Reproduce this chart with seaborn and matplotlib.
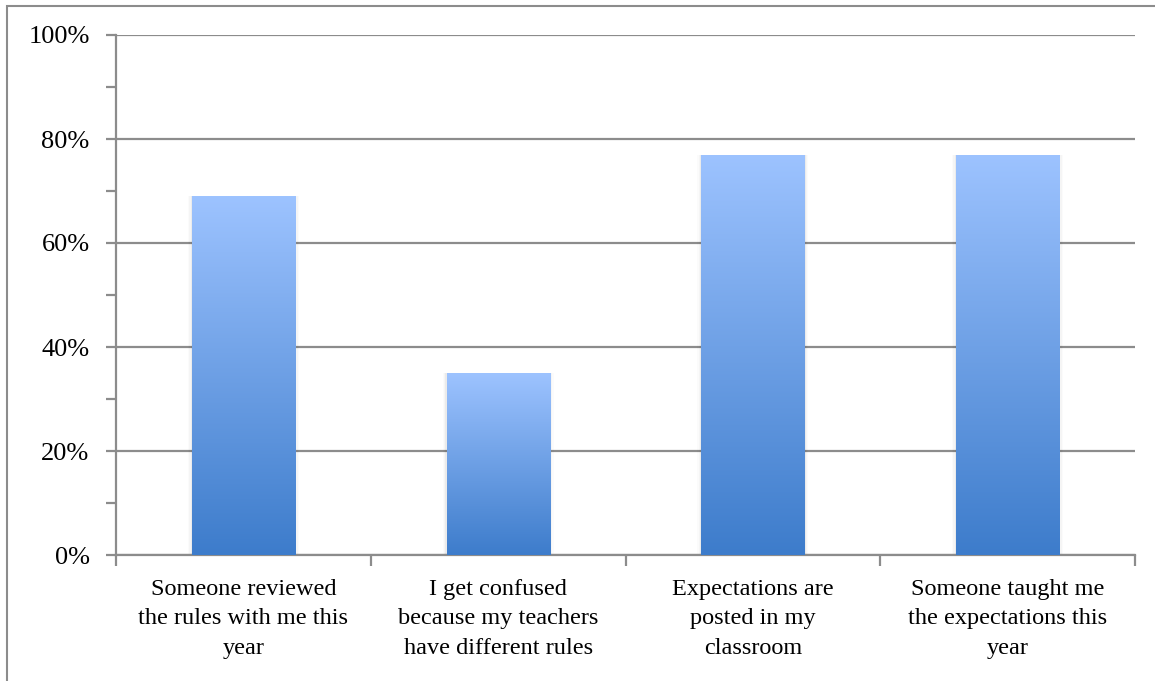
import numpy as np
import pandas as pd
import matplotlib
matplotlib.use("Agg")
import matplotlib.pyplot as plt
import seaborn as sns
from matplotlib.patches import Rectangle
from matplotlib.colors import LinearSegmentedColormap
from matplotlib.ticker import MultipleLocator, FuncFormatter

categories = [
    "Someone reviewed\nthe rules with me this\nyear",
    "I get confused\nbecause my teachers\nhave different rules",
    "Expectations are\nposted in my\nclassroom",
    "Someone taught me\nthe expectations this\nyear",
]
values = [0.69, 0.35, 0.77, 0.77]

sns.set_theme(style="white")
plt.rcParams["font.family"] = ["Liberation Serif", "DejaVu Serif"]
plt.rcParams["text.color"] = "black"
plt.rcParams["xtick.labelcolor"] = "black"
plt.rcParams["ytick.labelcolor"] = "black"

fig = plt.figure(figsize=(11.55, 6.81), dpi=100)
ax = fig.add_axes([116/1155, 1-555/681, (1135-116)/1155, (555-35)/681])

df = pd.DataFrame({"cat": categories, "val": values})
sns.barplot(data=df, x="cat", y="val", ax=ax, width=0.405, color="#6a9de6", zorder=3)

cmap = LinearSegmentedColormap.from_list("g", ["#3d7ccb", "#9dc3ff"])
grad = np.linspace(0, 1, 256).reshape(-1, 1)
for p in list(ax.patches):
    x, y = p.get_x(), p.get_y()
    w, h = p.get_width(), p.get_height()
    # soft shadow
    for i, a in enumerate([0.04, 0.025, 0.015]):
        d = 0.005 * (i + 1)
        ax.add_patch(Rectangle((x - d, y), w + 2 * d, h,
                               facecolor="black", alpha=a, edgecolor="none", zorder=2))
    im = ax.imshow(grad, extent=[x, x + w, y, y + h], origin="lower", aspect="auto",
                   cmap=cmap, zorder=3.5)
    im.set_clip_path(p)
    p.set_facecolor("none")
    p.set_edgecolor("none")

ax.set_xlim(-0.5, 3.5)
ax.set_ylim(0, 1)
ax.set_xlabel("")
ax.set_ylabel("")

ax.yaxis.set_major_locator(MultipleLocator(0.2))
ax.yaxis.set_minor_locator(MultipleLocator(0.1))
ax.yaxis.set_major_formatter(FuncFormatter(lambda v, _: f"{v*100:.0f}%"))
ax.grid(axis="y", which="major", color="#8c8c8c", linewidth=1.6, zorder=1)
ax.set_axisbelow(True)

ax.set_xticks(range(4))
ax.set_xticklabels(categories, fontsize=17.5, linespacing=1.55)
ax.set_xticks(np.arange(-0.5, 4, 1), minor=True)
ax.tick_params(axis="x", which="major", length=0, pad=17)
ax.tick_params(axis="x", which="minor", length=8, width=1.6, color="#8c8c8c", direction="out", bottom=True)
ax.tick_params(axis="y", which="both", length=7, width=1.6, color="#8c8c8c", direction="out", left=True, labelsize=19, pad=12)

for s in ["top", "right"]:
    ax.spines[s].set_visible(False)
for s in ["left", "bottom"]:
    ax.spines[s].set_color("#8c8c8c")
    ax.spines[s].set_linewidth(1.6)

# outer frame
fig.patches.append(Rectangle((7/1155, -0.1), 1.1, 1.1 - 6/681, transform=fig.transFigure,
                             fill=False, edgecolor="#8c8c8c", linewidth=1.5))

fig.savefig("out.png", dpi=100)
